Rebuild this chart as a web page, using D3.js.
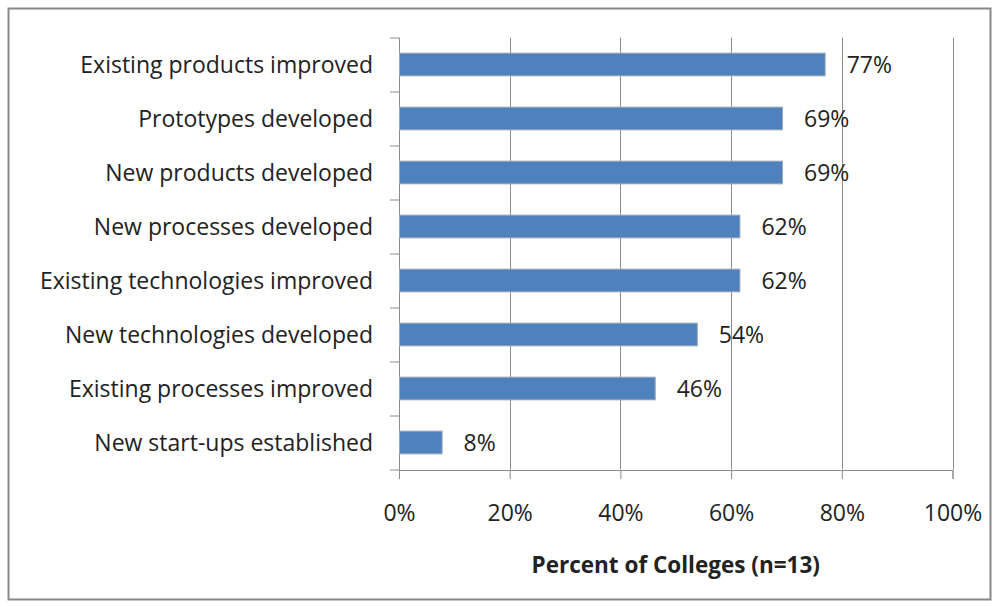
<!DOCTYPE html>
<html>
<head>
<meta charset="utf-8">
<script src="https://cdnjs.cloudflare.com/ajax/libs/d3/7.8.5/d3.min.js"></script>
<style>
  body { margin: 0; background: #fff; }
  text { font-family: "Open Sans", sans-serif; fill: #222; }
</style>
</head>
<body>
<div id="graph"></div>
<script>
var categories = ["Existing products improved", "Prototypes developed", "New products developed",
    "New processes developed", "Existing technologies improved", "New technologies developed",
    "Existing processes improved", "New start-ups established"];
var values = [76.9, 69.2, 69.2, 61.5, 61.5, 53.8, 46.2, 7.7];
var labels = ["77%", "69%", "69%", "62%", "62%", "54%", "46%", "8%"];
var ticks = [0, 20, 40, 60, 80, 100];
var axisTitle = "Percent of Colleges (n=13)";

var W = 998, H = 607;
var margin = { top: 37.5, right: 45.5, bottom: 137.5, left: 399 },
    width = W - margin.left - margin.right,
    height = H - margin.top - margin.bottom;

var svg = d3.select('#graph').append('svg')
    .attr('width', W)
    .attr('height', H);

// outer frame
svg.append("rect")
    .attr("x", 8.5).attr("y", 8.5)
    .attr("width", 982).attr("height", 591)
    .style("fill", "none")
    .style("stroke", "#878787")
    .style("stroke-width", 2);

var g = svg.append("g")
    .attr("transform", "translate(" + margin.left + "," + margin.top + ")");

var x = d3.scaleLinear().domain([0, 100]).range([0, width]);
var y = d3.scaleBand().domain(categories).range([0, height]).paddingInner(0.58).paddingOuter(0.29);

// gridlines
g.selectAll(".grid")
    .data(ticks.slice(1))
    .enter().append("line")
    .attr("x1", function(d){ return Math.round(x(d)) + 0.5 })
    .attr("x2", function(d){ return Math.round(x(d)) + 0.5 })
    .attr("y1", 0).attr("y2", height)
    .style("stroke", "#8c8c8c");

// y axis line + ticks at band boundaries
var bandEdges = d3.range(categories.length + 1).map(function(i){ return i * height / categories.length });
g.append("line")
    .attr("x1", 0.5).attr("x2", 0.5).attr("y1", 0).attr("y2", height + 9)
    .style("stroke", "#8c8c8c");
g.selectAll(".ytick")
    .data(bandEdges)
    .enter().append("line")
    .attr("x1", -9).attr("x2", 0)
    .attr("y1", function(d){ return Math.round(d) + 0.5 })
    .attr("y2", function(d){ return Math.round(d) + 0.5 })
    .style("stroke", "#8c8c8c");

// x axis
var xAxis = g.append("g")
    .attr("transform", "translate(0," + (Math.round(height) + 0.5) + ")")
    .call(d3.axisBottom(x).tickValues(ticks).tickSize(9).tickPadding(26)
        .tickFormat(function(d){ return d + "%" }));
xAxis.select(".domain").style("stroke", "#8c8c8c");
xAxis.selectAll(".tick line").style("stroke", "#8c8c8c");
xAxis.selectAll("text")
    .style("font-family", "'Open Sans', sans-serif")
    .style("font-size", "23px")
    .style("fill", "#222");

// bars
g.selectAll(".bar")
    .data(values)
    .enter().append("rect")
    .attr("x", 0.5)
    .attr("y", function(d, i){ return y(categories[i]) })
    .attr("width", function(d){ return x(d) })
    .attr("height", y.bandwidth())
    .style("fill", "#4f81bd")
    .style("stroke", "#9aa6b6")
    .style("stroke-width", 1);

// value labels
g.selectAll(".val")
    .data(values)
    .enter().append("text")
    .attr("x", function(d){ return x(d) + 22 })
    .attr("y", function(d, i){ return y(categories[i]) + y.bandwidth() / 2 })
    .attr("dy", "0.36em")
    .style("font-size", "23px")
    .text(function(d, i){ return labels[i] });

// category labels
g.selectAll(".cat")
    .data(categories)
    .enter().append("text")
    .attr("x", -26)
    .attr("y", function(d){ return y(d) + y.bandwidth() / 2 })
    .attr("dy", "0.36em")
    .attr("text-anchor", "end")
    .style("font-size", "23px")
    .text(function(d){ return d });

// axis title
g.append("text")
    .attr("x", width / 2)
    .attr("y", height + 103.5)
    .attr("text-anchor", "middle")
    .style("font-size", "22.5px")
    .style("font-weight", "bold")
    .text(axisTitle);
</script>
</body>
</html>
